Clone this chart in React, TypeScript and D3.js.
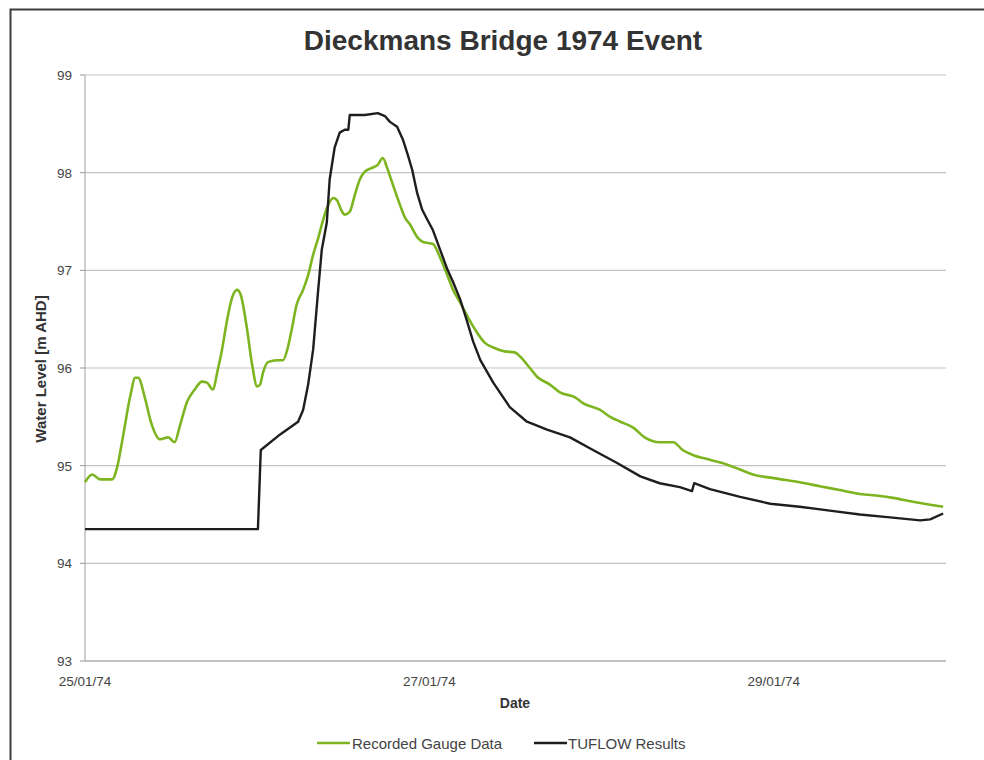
import * as d3 from "d3";

// hours after 25/01/74 00:00, water level [m AHD]
const gaugeHours = [
  0, 1, 2.1, 3.8, 4.5, 5.3, 6.3, 7.0, 7.4, 8.4, 9.1, 10.5, 11.6, 12.5, 13.2, 14.2, 15.3, 16.3, 17.0,
  17.8, 18.5, 19.1, 19.8, 20.5, 21.2, 21.7, 22.6, 23.3, 24.0, 24.4, 24.8, 25.5, 26.8, 27.6, 28.2,
  28.8, 29.5, 30.4, 31.1, 31.8, 32.5, 33.2, 33.9, 34.6, 35.1, 35.7, 36.2, 36.9, 37.6, 38.3, 39.0,
  40.0, 40.8, 41.5, 42.1, 42.8, 43.9, 44.6, 45.3, 46.3, 47.1, 48.5, 49.5, 50.5, 51.3, 52.3, 53.0,
  54.4, 55.7, 56.9, 58.5, 59.9, 60.6, 62.0, 63.0, 64.8, 66.2, 68.3, 69.4, 71.8, 73.2, 74.6, 76.4,
  78.0, 80.1, 82.0, 83.3, 84.7, 87.1, 89.5, 91.3, 93.1, 96.2, 99.6, 102.4, 105.2, 108.0, 110.8,
  112.6, 115.4, 117.8, 119.6,
];
const gaugeLevels = [
  94.83, 94.91, 94.86, 94.86, 94.99, 95.3, 95.71, 95.9, 95.9, 95.68, 95.47, 95.27, 95.29, 95.24,
  95.4, 95.65, 95.78, 95.86, 95.85, 95.78, 95.98, 96.19, 96.49, 96.72, 96.8, 96.75, 96.39, 96.03,
  95.81, 95.83, 95.95, 96.06, 96.08, 96.08, 96.19, 96.39, 96.65, 96.8, 96.95, 97.16, 97.33, 97.52,
  97.67, 97.74, 97.72, 97.62, 97.57, 97.6, 97.77, 97.93, 98.01, 98.05, 98.08, 98.15, 98.05, 97.9,
  97.67, 97.54, 97.47, 97.34, 97.29, 97.27, 97.13, 96.95, 96.8, 96.67, 96.57, 96.39, 96.26, 96.21,
  96.17, 96.16, 96.12, 96.0, 95.91, 95.83, 95.75, 95.7, 95.64, 95.57, 95.5, 95.45, 95.39, 95.29,
  95.24, 95.24, 95.16, 95.11, 95.06, 95.01, 94.96, 94.91, 94.87, 94.83, 94.79, 94.75, 94.71,
  94.69, 94.67, 94.63, 94.6, 94.58,
];

const tuflowHours = [
  0, 24.1, 24.5, 27.2, 29.7, 30.4, 31.1, 31.8, 32.5, 33.0, 33.7, 34.1, 34.8, 35.5, 36.2, 36.7,
  36.9, 39.0, 40.8, 41.8, 42.5, 43.5, 44.3, 45.0, 45.6, 46.3, 47.0, 47.7, 48.5, 49.5, 50.5, 51.3,
  52.3, 53.2, 54.1, 55.1, 56.9, 59.2, 61.6, 64.4, 67.6, 70.8, 74.1, 77.4, 80.1, 82.9, 84.6, 84.9,
  87.1, 91.3, 95.5, 99.6, 103.8, 108.0, 112.2, 116.4, 117.8, 119.6,
];
const tuflowLevels = [
  94.35, 94.35, 95.16, 95.32, 95.45, 95.57, 95.83, 96.19, 96.8, 97.21, 97.49, 97.93, 98.26,
  98.41, 98.44, 98.44, 98.59, 98.59, 98.61, 98.58, 98.52, 98.47, 98.34, 98.18, 98.03, 97.79,
  97.62, 97.52, 97.41, 97.21, 97.01, 96.88, 96.7, 96.49, 96.27, 96.08, 95.85, 95.6, 95.45, 95.37,
  95.29, 95.16, 95.03, 94.89, 94.82, 94.78, 94.74, 94.82, 94.76, 94.68, 94.61, 94.58, 94.54,
  94.5, 94.47, 94.44, 94.45, 94.51,
];

const yTicks = [93, 94, 95, 96, 97, 98, 99];
const xTickDays = ["1974-01-25", "1974-01-27", "1974-01-29"];

const start = new Date(1974, 0, 25);
const end = new Date(1974, 0, 30);

const width = 984;
const height = 760;
const marginLeft = 85;
const plotRight = 946;
const plotTop = 75;
const plotBottom = 661;

const green = "#7cb520";
const black = "#1e1e1e";

function toSeries(hours: number[], levels: number[]): [Date, number][] {
  return hours.map((h, i) => [new Date(start.getTime() + h * 3600e3), levels[i]]);
}

export default function App() {
  const x = d3.scaleTime().domain([start, end]).range([marginLeft, plotRight]);
  const y = d3.scaleLinear().domain([93, 99]).range([plotBottom, plotTop]);
  const fmt = d3.timeFormat("%d/%m/%y");

  const smooth = d3
    .line<[Date, number]>()
    .x((d) => x(d[0]))
    .y((d) => y(d[1]))
    .curve(d3.curveMonotoneX);
  const straight = d3
    .line<[Date, number]>()
    .x((d) => x(d[0]))
    .y((d) => y(d[1]));

  const gauge = toSeries(gaugeHours, gaugeLevels);
  const tuflow = toSeries(tuflowHours, tuflowLevels);

  const xTicks = xTickDays.map((s) => {
    const [yy, mm, dd] = s.split("-").map(Number);
    return new Date(yy, mm - 1, dd);
  });

  const font = "'Liberation Sans', Arial, sans-serif";

  return (
    <svg
      width={width}
      height={height}
      style={{ position: "absolute", left: 0, top: 0, background: "#fff" }}
      fontFamily={font}
    >
      <rect x={10.5} y={9.5} width={1000} height={800} fill="#fff" stroke="#3a3d3a" strokeWidth={2} />

      <text x={503} y={50} textAnchor="middle" fontSize={28} fontWeight="bold" fill="#333">
        Dieckmans Bridge 1974 Event
      </text>

      {yTicks.map((t) => (
        <g key={t}>
          <line x1={marginLeft} x2={plotRight} y1={y(t)} y2={y(t)} stroke="#c4c4c4" strokeWidth={1.2} />
          <line x1={80} x2={marginLeft} y1={y(t)} y2={y(t)} stroke="#999" strokeWidth={1} />
          <text x={72} y={y(t) + 5} textAnchor="end" fontSize={13.5} fill="#444">
            {t}
          </text>
        </g>
      ))}
      <line x1={marginLeft} x2={marginLeft} y1={plotTop} y2={plotBottom} stroke="#a0a0a0" strokeWidth={1} />
      <line x1={marginLeft} x2={plotRight} y1={plotBottom} y2={plotBottom} stroke="#a0a0a0" strokeWidth={1} />

      {xTicks.map((d, i) => (
        <text key={i} x={x(d)} y={686} textAnchor="middle" fontSize={13.5} fill="#444">
          {fmt(d)}
        </text>
      ))}

      <text x={515} y={708} textAnchor="middle" fontSize={14} fontWeight="bold" fill="#333">
        Date
      </text>
      <text
        transform={`translate(46,369) rotate(-90)`}
        textAnchor="middle"
        fontSize={15}
        fontWeight="bold"
        fill="#333"
      >
        Water Level [m AHD]
      </text>

      <path d={smooth(gauge) ?? ""} fill="none" stroke={green} strokeWidth={2.6} strokeLinejoin="round" />
      <path d={straight(tuflow) ?? ""} fill="none" stroke={black} strokeWidth={2.4} strokeLinejoin="round" />

      <line x1={317} x2={350} y1={743} y2={743} stroke={green} strokeWidth={2.6} />
      <text x={352} y={748.5} fontSize={15} fill="#444">
        Recorded Gauge Data
      </text>
      <line x1={534} x2={567} y1={743} y2={743} stroke={black} strokeWidth={2.4} />
      <text x={568} y={748.5} fontSize={15} fill="#444">
        TUFLOW Results
      </text>
    </svg>
  );
}
